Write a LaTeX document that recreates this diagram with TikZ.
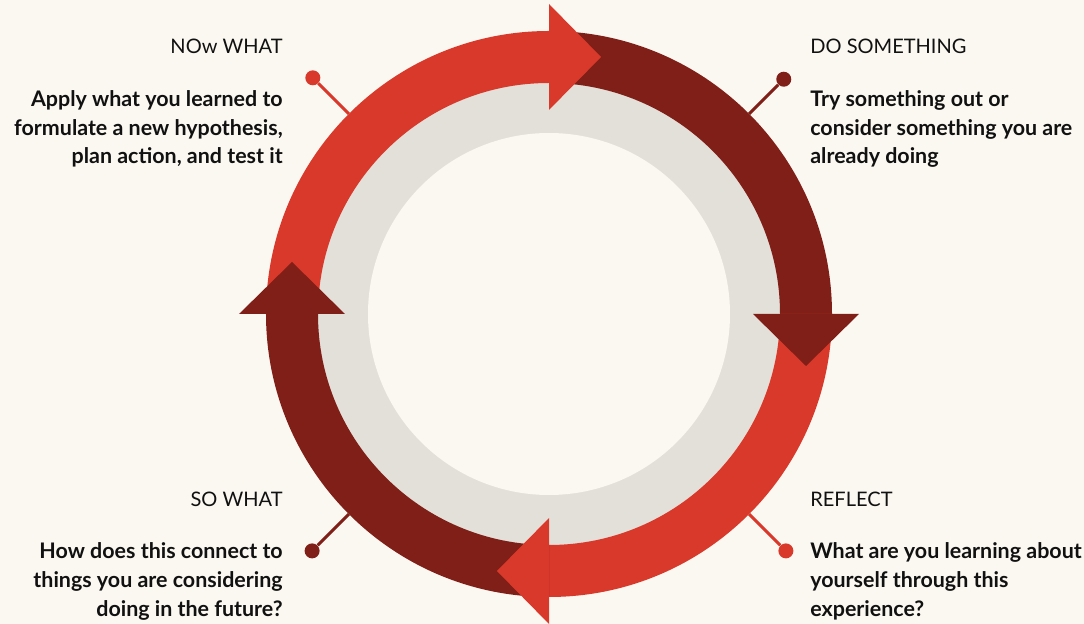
\documentclass[tikz,border=0pt]{standalone}
\usepackage{fontspec}
\setmainfont{Lato}
\usetikzlibrary{positioning}
\definecolor{bgcream}{HTML}{FBF8F1}
\definecolor{ringgray}{HTML}{E3E0DA}
\definecolor{cyclered}{HTML}{D9392B}
\definecolor{cycledark}{HTML}{7F1F17}
\definecolor{textblack}{HTML}{111111}

\begin{document}
\begin{tikzpicture}[
    x=0.02cm, y=0.02cm,
    heading/.style={font=\fontsize{11.4}{16.4}\selectfont, text=textblack, inner sep=0pt},
    body/.style={font=\bfseries\fontsize{12.2}{16.4}\selectfont, text=textblack, inner sep=0pt},
    pin/.style={circle, minimum size=0.3cm, inner sep=0pt},
    lead/.style={line width=1.7pt}
]

\fill[bgcream] (-549,-310) rectangle (535,314);

\fill[ringgray] (0,0) circle (232);
\fill[bgcream] (0,0) circle (181);

\foreach \a/\c in {180/cyclered, 90/cycledark, 0/cyclered, -90/cycledark}
  \fill[\c] (\a:283) arc[start angle=\a, end angle=\a-90, radius=283]
    -- (\a-90:231) arc[start angle=\a-90, end angle=\a, radius=231] -- cycle;

\foreach \a/\c in {180/cyclered, 90/cycledark, 0/cyclered, -90/cycledark}
  \fill[\c, rotate=\a-180] (0,204) -- (0,310) -- (52,257) -- cycle;

\node[pin, fill=cyclered] (nowpin) at (135:334) {};
\node[pin, fill=cycledark] (dopin) at (45:332) {};
\node[pin, fill=cyclered] (reflectpin) at (-45:335) {};
\node[pin, fill=cycledark] (sopin) at (-135:335) {};
\coordinate (nowring) at (135:283);
\coordinate (doring) at (45:283);
\coordinate (reflectring) at (-45:283);
\coordinate (soring) at (-135:283);
\draw[lead, cyclered] (nowring) -- (nowpin);
\draw[lead, cycledark] (doring) -- (dopin);
\draw[lead, cyclered] (reflectring) -- (reflectpin);
\draw[lead, cycledark] (soring) -- (sopin);

\node[heading, anchor=base east] (nowhead) at (-266,260) {NOw WHAT};
\node[body, anchor=base east, align=right] (nowtext) at (-266,150)
  {Apply what you learned to\\formulate a new hypothesis,\\plan action, and test it};

\node[heading, anchor=base west] (dohead) at (261,260) {DO SOMETHING};
\node[body, anchor=base west, align=left] (dotext) at (261,150)
  {Try something out or\\consider something you are\\already doing};

\node[heading, anchor=base east] (sohead) at (-266,-193) {SO WHAT};
\node[body, anchor=base east, align=right] (sotext) at (-266,-302)
  {How does this connect to\\things you are considering\\doing in the future?};

\node[heading, anchor=base west] (reflecthead) at (261,-193) {REFLECT};
\node[body, anchor=base west, align=left] (reflecttext) at (261,-302)
  {What are you learning about\\yourself through this\\experience?};

\end{tikzpicture}
\end{document}
